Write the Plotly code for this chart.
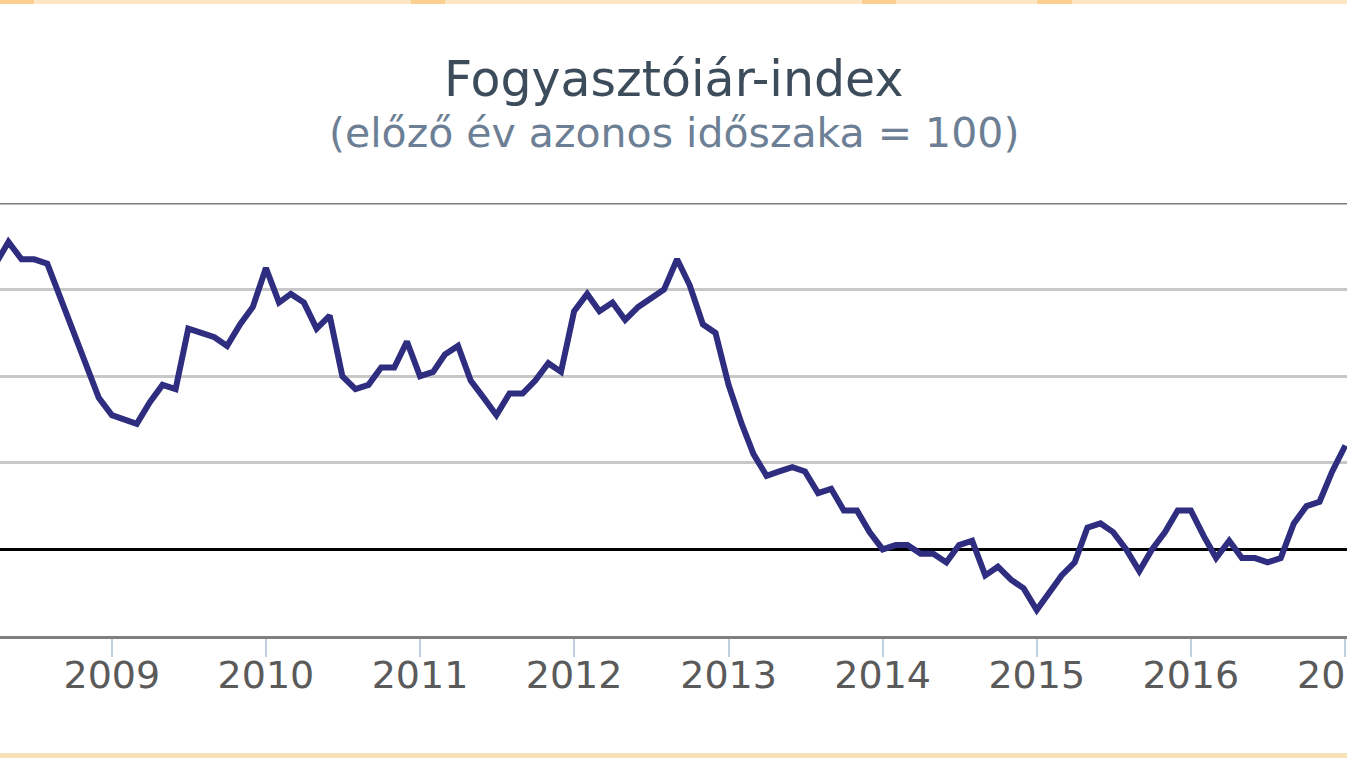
import plotly.graph_objects as go

# Monthly consumer price index (same period of previous year = 100), Apr 2008 - Jan 2017
start_month = "2008-04"
cpi_values = [
    106.6, 107.1, 106.7, 106.7, 106.6, 105.8, 105.1, 104.3, 103.5,          # 2008 Apr-Dec
    103.1, 103.0, 102.9, 103.4, 103.8, 103.7, 105.1, 105.0, 104.9, 104.7, 105.2, 105.6,  # 2009
    106.5, 105.7, 105.9, 105.7, 105.1, 105.4, 104.0, 103.7, 103.8, 104.2, 104.2, 104.8,  # 2010
    104.0, 104.1, 104.5, 104.7, 103.9, 103.5, 103.1, 103.6, 103.6, 103.9, 104.3, 104.1,  # 2011
    105.5, 105.9, 105.5, 105.7, 105.3, 105.6, 105.8, 106.0, 106.7, 106.1, 105.2, 105.0,  # 2012
    103.8, 102.9, 102.2, 101.7, 101.8, 101.9, 101.8, 101.3, 101.4, 100.9, 100.9, 100.4,  # 2013
    100.0, 100.1, 100.1, 99.9, 99.9, 99.7, 100.1, 100.2, 99.4, 99.6, 99.3, 99.1,         # 2014
    98.6, 99.0, 99.4, 99.7, 100.5, 100.6, 100.4, 100.0, 99.5, 100.0, 100.4, 100.9,       # 2015
    100.9, 100.3, 99.8, 100.2, 99.8, 99.8, 99.7, 99.8, 100.6, 101.0, 101.1, 101.8,       # 2016
    102.4,                                                                               # 2017 Jan
]
year_ticks = ["2009", "2010", "2011", "2012", "2013", "2014", "2015", "2016", "2017"]
reference_value = 100
y_grid = [98, 102, 104, 106, 108]
y_range = [98, 108]

# build month dates
y0, m0 = int(start_month[:4]), int(start_month[5:])
dates = []
for i in range(len(cpi_values)):
    mm = m0 - 1 + i
    dates.append(f"{y0 + mm // 12:04d}-{mm % 12 + 1:02d}-01")

fig = go.Figure()
fig.add_trace(go.Scatter(
    x=dates, y=cpi_values, mode="lines",
    line=dict(color="#2e2d7f", width=6),
    hoverinfo="x+y", showlegend=False,
))

font = "DejaVu Sans"
PH = 433  # plot height in px (203..636)

fig.update_layout(
    width=1347, height=758,
    margin=dict(l=0, r=0, t=203, b=122, pad=0, autoexpand=False),
    paper_bgcolor="white", plot_bgcolor="white",
    font=dict(family=font),
    xaxis=dict(
        type="date",
        range=["2008-04-11", "2017-01-05"],
        tickvals=[f"{y}-01-01" for y in year_ticks],
        ticktext=year_ticks,
        ticks="outside", ticklen=18, tickwidth=2, tickcolor="#c0d0e0",
        tickfont=dict(family=font, size=38, color="#5a5a5a"),
        ticklabelstandoff=-15,
        ticklabeloverflow="allow",
        automargin=False,
        showgrid=False, zeroline=False,
        showline=True, linecolor="#808080", linewidth=3,
        fixedrange=True,
    ),
    yaxis=dict(
        range=y_range,
        tickvals=y_grid,
        showticklabels=False, ticks="",
        showgrid=True, gridcolor="#c8c8c8", gridwidth=3,
        zeroline=False, showline=False,
        automargin=False,
        fixedrange=True,
    ),
    shapes=[
        # top frame gridline (darker)
        dict(type="line", xref="paper", yref="y", x0=0, x1=1, y0=y_range[1], y1=y_range[1],
             line=dict(color="#7c7c7c", width=3), layer="below"),
        # reference line at 100
        dict(type="line", xref="paper", yref="y", x0=0, x1=1, y0=reference_value, y1=reference_value,
             line=dict(color="#000000", width=3), layer="below"),
        # decorative orange borders
        dict(type="rect", xref="paper", yref="paper", x0=0, x1=1,
             y0=1 + 199 / PH, y1=1 + 203 / PH, line=dict(width=0), fillcolor="#fde6c6", layer="above"),
        dict(type="rect", xref="paper", yref="paper", x0=0, x1=1,
             y0=-(753 - 636) / PH, y1=-(758 - 636) / PH,
             line=dict(width=0), fillcolor="#f6e2b6", layer="above"),
    ],
    annotations=[
        dict(text="Fogyasztóiár-index", xref="paper", yref="paper", x=0.5, y=(636 - 79) / PH,
             xanchor="center", yanchor="middle", showarrow=False,
             font=dict(family=font, size=49, color="#3d4c5b")),
        dict(text="(előző év azonos időszaka = 100)", xref="paper", yref="paper", x=0.5,
             y=(636 - 133) / PH, xanchor="center", yanchor="middle", showarrow=False,
             font=dict(family=font, size=41, color="#6d7f95")),
    ],
)

# darker orange spots on top border
for a, b in [(0, 34), (411, 445), (862, 896), (1037, 1072)]:
    fig.add_shape(type="rect", xref="paper", yref="paper", x0=a / 1347, x1=b / 1347,
                  y0=1 + 199 / PH, y1=1 + 203 / PH, line=dict(width=0),
                  fillcolor="#fbcf90", layer="above")

fig.write_html("out.html")
